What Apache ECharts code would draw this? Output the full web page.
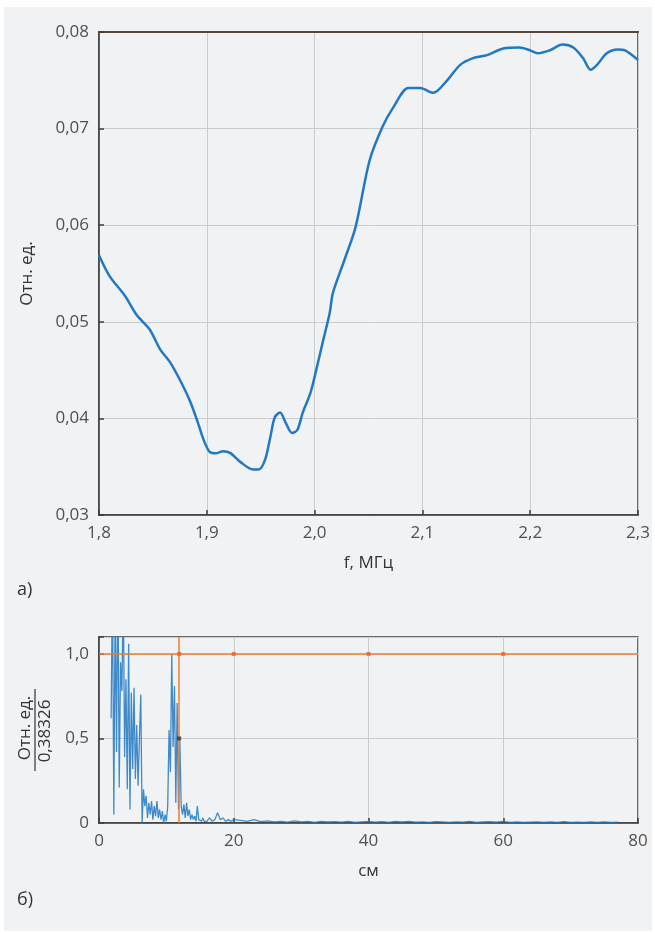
<!DOCTYPE html>
<html>
<head>
<meta charset="utf-8">
<script src="https://cdn.jsdelivr.net/npm/echarts@6/dist/echarts.min.js"></script>
<style>
  html,body{margin:0;padding:0;background:#fff;}
  #chart{width:655px;height:933px;}
</style>
</head>
<body>
<div id="chart"></div>
<script>
// верхний график: частотная характеристика
var freqMHz = [1.800,1.810,1.824,1.835,1.847,1.857,1.866,1.875,1.884,1.891,1.897,1.903,1.909,1.915,1.922,1.931,1.943,1.948,1.954,1.959,1.963,1.968,1.973,1.979,1.984,1.989,1.996,2.000,2.008,2.014,2.017,2.028,2.038,2.051,2.063,2.073,2.087,2.098,2.110,2.123,2.135,2.147,2.160,2.175,2.190,2.200,2.207,2.218,2.230,2.240,2.249,2.256,2.262,2.271,2.281,2.288,2.300];
var relUnits = [0.0569,0.0547,0.0527,0.0507,0.0492,0.0471,0.0458,0.0440,0.0419,0.0398,0.0378,0.0365,0.0364,0.0366,0.0364,0.0355,0.0347,0.0347,0.0357,0.0381,0.0401,0.0406,0.0396,0.0385,0.0388,0.0406,0.0426,0.0443,0.0481,0.0509,0.0530,0.0565,0.0598,0.0667,0.0702,0.0722,0.0742,0.0742,0.0737,0.0750,0.0766,0.0773,0.0776,0.0783,0.0784,0.0781,0.0778,0.0781,0.0787,0.0784,0.0773,0.0761,0.0766,0.0778,0.0782,0.0781,0.0771];
// нижний график: спектр по расстоянию
var distCm = [1.8,2.0,2.2,2.4,2.6,2.8,3.0,3.2,3.4,3.6,3.8,4.0,4.2,4.4,4.6,4.8,5.0,5.2,5.4,5.6,5.8,6.0,6.2,6.4,6.6,6.8,7.0,7.2,7.4,7.6,7.8,8.0,8.2,8.4,8.6,8.8,9.0,9.2,9.4,9.6,9.8,10.0,10.2,10.4,10.6,10.8,11.0,11.2,11.4,11.6,11.8,12.0,12.2,12.4,12.6,12.8,13.0,13.2,13.4,13.6,13.8,14.0,14.2,14.4,14.6,14.8,15.0,15.2,15.4,15.6,15.8,16.0,16.4,16.8,17.2,17.6,18.0,18.4,18.8,19.2,19.6,20,21,22,23,24,25,26,27,28,29,30,31,32,33,34,35,36,37,38,39,40,41,42,43,44,45,46,47,48,49,50,51,52,53,54,55,56,57,58,59,60,61,62,63,64,65,66,67,68,69,70,71,72,73,74,75,76,77,78,79,80];
var normAmp = [0.62,1.45,0.05,1.3,0.42,1.5,0.21,0.95,0.78,1.4,0.39,0.85,0.2,1.06,0.08,0.77,0.32,0.8,0.26,0.58,0.22,0.5,0.76,0.0,0.2,0.1,0.16,0.03,0.12,0.05,0.13,0.02,0.1,0.04,0.13,0.03,0.08,0.02,0.07,0.0,0.05,0.01,0.1,0.55,0.3,1.0,0.45,0.81,0.12,0.71,0.08,0.49,0.1,0.05,0.11,0.03,0.12,0.04,0.08,0.02,0.05,0.02,0.04,0.01,0.1,0.02,0.03,0.01,0.03,0.01,0.02,0.01,0.03,0.01,0.02,0.06,0.02,0.03,0.01,0.02,0.01,0.02,0.015,0.01,0.02,0.008,0.012,0.006,0.01,0.005,0.012,0.007,0.009,0.004,0.01,0.006,0.008,0.005,0.009,0.004,0.007,0.01,0.005,0.008,0.004,0.009,0.006,0.01,0.005,0.007,0.004,0.008,0.006,0.004,0.007,0.005,0.009,0.004,0.006,0.008,0.005,0.01,0.004,0.006,0.003,0.005,0.007,0.004,0.006,0.003,0.008,0.004,0.005,0.003,0.006,0.004,0.007,0.003,0.005];
var cursorCm = 11.9;
var refLevel = 1.0;
var gridMarks = [[cursorCm,1.0],[20,1.0],[40,1.0],[60,1.0]];

var lineColor = '#2079c2';
var txtColor = '#505050';
var gridColor = '#cbcccd';
var fontFam = '"Open Sans", "Noto Sans", sans-serif';

function zip(a, b) {
    var res = [];
    for (var i = 0; i < a.length; i++) res.push([a[i], b[i]]);
    return res;
}
function comma(v, n) {
    return v.toFixed(n).replace('.', ',');
}

var chart = echarts.init(document.getElementById('chart'));
var labelStyle = {color: txtColor, fontSize: 17, fontFamily: fontFam, margin: 10};
var option = {
    backgroundColor: '#fff',
    animation: false,
    graphic: [
        {type: 'rect', z: -10, silent: true, shape: {x: 4, y: 7, width: 648, height: 924}, style: {fill: '#f1f2f4'}},
        {type: 'text', left: 17, top: 581, style: {text: 'а)', fill: '#333', fontSize: 18, fontFamily: fontFam}},
        {type: 'text', left: 17, top: 891, style: {text: 'б)', fill: '#333', fontSize: 18, fontFamily: fontFam}},
        {type: 'text', x: 25, y: 728, rotation: Math.PI / 2,
            style: {text: 'Отн. ед.', fill: '#333', fontSize: 17, fontFamily: fontFam, align: 'center', verticalAlign: 'middle'}},
        {type: 'line', shape: {x1: 35, y1: 689, x2: 35, y2: 771}, style: {stroke: '#333', lineWidth: 1.2}},
        {type: 'text', x: 45, y: 731, rotation: Math.PI / 2,
            style: {text: '0,38326', fill: '#333', fontSize: 17, fontFamily: fontFam, align: 'center', verticalAlign: 'middle'}}
    ],
    grid: [
        {left: 99, top: 32, width: 539, height: 483, show: true, borderColor: '#3c3c3c', borderWidth: 1.5, backgroundColor: 'transparent'},
        {left: 99, top: 637, width: 539, height: 186, show: true, borderColor: '#3c3c3c', borderWidth: 1.5, backgroundColor: 'transparent'}
    ],
    xAxis: [
        {type: 'value', gridIndex: 0, min: 1.8, max: 2.3, interval: 0.1,
            name: 'f, МГц', nameLocation: 'middle', nameGap: 40,
            nameTextStyle: {color: '#333', fontSize: 17, fontFamily: fontFam},
            axisLine: {lineStyle: {color: '#3c3c3c', width: 1.5}},
            axisTick: {inside: true, length: 5, lineStyle: {color: '#3c3c3c', width: 1.5}},
            axisLabel: Object.assign({formatter: function (v) { return comma(v, 1); }}, labelStyle),
            splitLine: {show: true, lineStyle: {color: gridColor, width: 1}}},
        {type: 'value', gridIndex: 0, position: 'top', min: 1.8, max: 2.3, interval: 0.1,
            axisLine: {lineStyle: {color: '#5a4638', width: 2}},
            axisTick: {show: false}, axisLabel: {show: false}, splitLine: {show: false}},
        {type: 'value', gridIndex: 1, min: 0, max: 80, interval: 20,
            name: 'см', nameLocation: 'middle', nameGap: 40,
            nameTextStyle: {color: '#333', fontSize: 17, fontFamily: fontFam},
            axisLine: {lineStyle: {color: '#3c3c3c', width: 1.5}},
            axisTick: {inside: true, length: 5, lineStyle: {color: '#3c3c3c', width: 1.5}},
            axisLabel: labelStyle,
            splitLine: {show: true, lineStyle: {color: gridColor, width: 1}}}
    ],
    yAxis: [
        {type: 'value', gridIndex: 0, min: 0.03, max: 0.08, interval: 0.01,
            name: 'Отн. ед.', nameLocation: 'middle', nameGap: 63, nameRotate: 90,
            nameTextStyle: {color: '#333', fontSize: 17, fontFamily: fontFam},
            axisLine: {lineStyle: {color: '#3c3c3c', width: 1.5}},
            axisTick: {inside: true, length: 5, lineStyle: {color: '#3c3c3c', width: 1.5}},
            axisLabel: Object.assign({formatter: function (v) { return comma(v, 2); }}, labelStyle),
            splitLine: {show: true, lineStyle: {color: gridColor, width: 1}}},
        {type: 'value', gridIndex: 1, min: 0, max: 1.1, interval: 0.5,
            axisLine: {lineStyle: {color: '#3c3c3c', width: 1.5}},
            axisTick: {inside: true, length: 5, lineStyle: {color: '#3c3c3c', width: 1.5}},
            axisLabel: Object.assign({formatter: function (v) {
                if (Math.abs(v * 2 - Math.round(v * 2)) > 1e-6) return '';
                return v === 0 ? '0' : comma(v, 1);
            }}, labelStyle),
            splitLine: {show: true, lineStyle: {color: gridColor, width: 1}}}
    ],
    series: [
        {type: 'line', xAxisIndex: 0, yAxisIndex: 0, data: zip(freqMHz, relUnits),
            smooth: 0.3, showSymbol: false, lineStyle: {color: lineColor, width: 2.5}},
        {type: 'line', xAxisIndex: 2, yAxisIndex: 1, data: zip(distCm, normAmp),
            showSymbol: false, clip: true, lineStyle: {color: lineColor, width: 1.3, opacity: 0.85},
            markLine: {silent: true, symbol: 'none', label: {show: false},
                lineStyle: {color: '#ef7d2d', width: 1.5, type: 'solid'},
                data: [{yAxis: refLevel}, {xAxis: cursorCm}]}},
        {type: 'scatter', xAxisIndex: 2, yAxisIndex: 1, data: gridMarks, symbol: 'rect', symbolSize: 4,
            itemStyle: {color: '#e8641e'}, z: 5},
        {type: 'scatter', xAxisIndex: 2, yAxisIndex: 1, data: [[cursorCm, 0.5]], symbol: 'rect', symbolSize: 4,
            itemStyle: {color: '#333'}, z: 5}
    ]
};
chart.setOption(option);
</script>
</body>
</html>
